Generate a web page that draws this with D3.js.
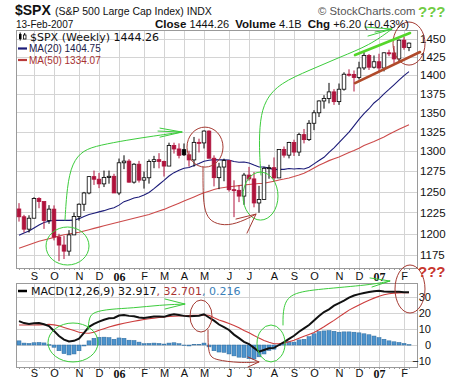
<!DOCTYPE html>
<html><head><meta charset="utf-8">
<script src="https://cdn.jsdelivr.net/npm/d3@7"></script>
<style>body{margin:0;background:#fff}svg{display:block}</style>
</head><body>
<svg id="c" width="460" height="383"></svg>
<script>
// ---------- DATA ----------
const weeks = ["2005-08-15","2005-08-22","2005-08-29","2005-09-05","2005-09-12","2005-09-19","2005-09-26","2005-10-03","2005-10-10","2005-10-17","2005-10-24","2005-10-31","2005-11-07","2005-11-14","2005-11-21","2005-11-28","2005-12-05","2005-12-12","2005-12-19","2005-12-26",
"2006-01-02","2006-01-09","2006-01-16","2006-01-23","2006-01-30","2006-02-06","2006-02-13","2006-02-20","2006-02-27","2006-03-06","2006-03-13","2006-03-20","2006-03-27","2006-04-03","2006-04-10","2006-04-17","2006-04-24","2006-05-01","2006-05-08","2006-05-15","2006-05-22","2006-05-29","2006-06-05","2006-06-12","2006-06-19","2006-06-26","2006-07-03","2006-07-10","2006-07-17","2006-07-24","2006-07-31","2006-08-07","2006-08-14","2006-08-21","2006-08-28","2006-09-04","2006-09-11","2006-09-18","2006-09-25","2006-10-02","2006-10-09","2006-10-16","2006-10-23","2006-10-30","2006-11-06","2006-11-13","2006-11-20","2006-11-27","2006-12-04","2006-12-11","2006-12-18","2006-12-25",
"2007-01-01","2007-01-08","2007-01-15","2007-01-22","2007-01-29","2007-02-05","2007-02-12"];

const open = [1229.0,1219.7,1205.1,1218.0,1241.5,1237.9,1215.3,1228.8,1195.9,1186.6,
1179.6,1198.4,1220.1,1234.7,1248.3,1268.3,1265.1,1259.4,1267.3,1268.7,
1248.3,1285.5,1287.6,1261.5,1283.7,1264.0,1266.9,1287.2,1289.4,1287.2,
1281.4,1307.3,1302.9,1302.0,1295.5,1289.1,1311.3,1310.6,1325.8,1291.2,
1267.0,1280.2,1288.2,1252.3,1251.5,1244.5,1270.2,1265.5,1236.2,1240.3,
1278.6,1279.4,1266.7,1302.3,1295.1,1311.0,1299.0,1321.2,1314.8,1335.9,
1349.6,1365.2,1368.6,1377.3,1364.3,1380.9,1401.2,1400.9,1396.7,1409.8,
1427.1,1410.8,1418.3,1409.7,1430.7,1430.5,1422.2,1448.4,1438.1];

const high = [1236.0,1222.0,1221.5,1243.1,1243.1,1237.9,1233.6,1233.3,1199.7,1197.3,
1204.0,1224.7,1235.7,1249.6,1268.8,1275.8,1272.9,1275.8,1275.8,1271.8,
1290.8,1294.9,1290.0,1285.0,1287.9,1274.6,1289.7,1294.2,1297.6,1288.2,
1310.9,1310.9,1310.0,1309.9,1300.7,1318.2,1316.0,1326.7,1326.7,1294.8,
1285.5,1290.7,1288.2,1263.8,1257.9,1272.9,1280.4,1274.0,1257.0,1280.4,
1283.0,1292.2,1302.3,1306.0,1312.0,1314.7,1323.6,1328.5,1340.0,1353.0,
1366.0,1372.9,1389.4,1381.0,1388.6,1403.8,1407.9,1406.3,1418.3,1431.6,
1429.0,1427.0,1429.4,1431.2,1435.0,1440.1,1449.2,1453.0,1445.0];

const low = [1214.0,1201.3,1201.1,1218.0,1229.9,1205.4,1211.4,1192.0,1168.2,1170.6,
1174.4,1198.4,1215.1,1226.6,1246.7,1258.1,1254.2,1255.5,1259.6,1248.3,
1245.7,1277.6,1260.9,1259.7,1261.0,1253.6,1259.7,1278.7,1278.6,1268.4,
1281.4,1297.1,1291.0,1294.0,1280.7,1280.7,1298.5,1303.5,1291.2,1256.3,
1252.9,1262.6,1250.0,1219.3,1237.2,1234.0,1263.3,1231.0,1224.5,1240.1,
1265.7,1261.8,1266.7,1292.0,1291.0,1294.0,1294.0,1310.0,1313.0,1327.0,
1344.0,1355.0,1362.0,1360.0,1360.0,1379.0,1398.0,1377.8,1394.0,1407.0,
1407.0,1409.0,1403.9,1405.0,1426.0,1416.0,1418.0,1435.0,1433.0];

const close = [1219.7,1205.1,1218.0,1241.5,1237.9,1215.3,1228.8,1195.9,1186.6,1179.6,
1198.4,1220.1,1234.7,1248.3,1268.3,1265.1,1259.4,1267.3,1268.7,1248.3,
1285.5,1287.6,1261.5,1283.7,1264.0,1266.9,1287.2,1289.4,1287.2,1281.4,
1307.3,1302.9,1294.9,1295.5,1289.1,1311.3,1310.6,1325.8,1291.2,1267.0,
1280.2,1288.2,1252.3,1251.5,1244.5,1270.2,1265.5,1236.2,1240.3,1278.6,
1279.4,1266.7,1302.3,1295.1,1311.0,1299.0,1321.2,1314.8,1335.9,1349.6,
1365.2,1368.6,1377.3,1364.3,1380.9,1401.2,1400.9,1396.7,1409.8,1427.1,
1410.8,1418.3,1409.7,1430.7,1430.5,1422.2,1448.4,1438.1,1444.26];

const ma20 = [1198,1200.5,1203,1206.5,1210,1213,1214.5,1215.5,1215.5,1215.5,
1215.5,1215.7,1217.5,1220,1222.5,1224,1225.5,1227,1229,1230.4,
1233.6,1237.8,1239.9,1242.1,1243.4,1245.9,1248.9,1253.5,1258.6,1263.7,
1269.1,1273.2,1276.3,1278.6,1279.7,1282.0,1284.5,1287.4,1288.6,1289.5,
1289.2,1289.3,1288.8,1287.2,1286.2,1286.4,1285.3,1282.6,1280.3,1280.2,
1278.8,1277.0,1277.3,1277.3,1278.4,1277.8,1278.3,1277.8,1280.0,1284.1,
1288.4,1292.4,1298.7,1304.3,1311.1,1317.7,1324.4,1332.5,1340.9,1348.4,
1354.9,1362.5,1367.9,1374.7,1380.6,1386.8,1393.2,1399.3,1404.75];

const ma50 = [1183,1185,1187,1189,1191,1192.5,1194,1195.5,1197,1198.5,
1199.5,1200.5,1201.5,1203,1204.5,1206,1207.5,1209,1210.5,1212,
1213.5,1215,1216.5,1218,1219.5,1221,1222.5,1224.5,1226.5,1228.5,
1231,1233.5,1236,1238.5,1241,1243.5,1246,1248.5,1250.5,1252.5,
1254,1255,1255.8,1256.5,1257.2,1258,1258.7,1259.3,1259.8,1260.1,
1261.3,1262.5,1264.2,1265.3,1266.7,1268.4,1270.3,1272.6,1275.6,1279.0,
1282.4,1285.3,1288.2,1290.5,1292.8,1295.5,1298.3,1300.9,1303.7,1307.3,
1309.8,1312.4,1315.4,1318.3,1321.6,1324.8,1328.0,1331.0,1334.07];

const macd = [14.9,13.7,13.2,13.6,13.8,13.0,11.8,8.8,5.6,3.4,
2.2,2.6,4.0,7.6,11.4,13.2,14.6,15.8,16.7,16.9,
18.4,18.8,18.2,18.0,17.2,16.9,17.4,17.8,17.8,17.6,
18.6,19.2,18.8,18.2,17.9,18.2,18.3,19.2,17.2,15.2,
12.8,11.2,9.4,6.5,4.3,2.0,0.6,-1.8,-4.2,-3.1,
-2.1,-1.8,0.0,1.8,3.8,5.8,8.3,10.4,12.5,15.3,
18.1,20.6,22.3,24.6,26.2,27.7,29.6,30.9,31.8,32.5,
33.1,33.6,33.9,33.5,33.3,33.3,33.3,33.0,32.917];

const signal = [12.5,12.5,12.5,12.5,12.6,12.7,12.9,12.6,12.0,11.0,
10.0,9.0,8.0,7.5,7.3,8.0,9.2,10.2,11.2,12.1,
12.9,13.6,14.2,14.8,15.4,15.9,16.4,16.8,17.2,17.6,
17.8,18.0,18.2,18.3,18.4,18.5,18.6,18.7,18.6,17.0,
15.6,14.6,13.4,12.2,10.8,9.0,7.6,5.9,4.3,2.8,
1.7,0.8,0.8,1.2,2.0,3.0,4.2,5.4,6.6,7.8,
9.5,11.4,13.4,15.4,17.6,19.7,21.8,23.4,25.0,26.6,
28.0,29.3,30.5,31.4,32.0,32.4,32.6,32.7,32.701];

const hist = [2.6,1.2,1.0,1.4,1.6,1.3,0.2,-1.4,-3.6,-5.4,
-6.2,-5.6,-3.6,-0.6,2.6,4.2,4.8,4.9,4.6,3.6,
4.4,4.2,3.0,2.8,1.8,0.8,1.0,1.2,1.0,0.6,
1.2,1.4,0.8,-0.2,-0.6,0.4,0.4,1.2,-1.2,-3.6,
-4.4,-4.6,-5.6,-6.8,-7.6,-7.8,-8.6,-8.8,-7.4,-5.6,
-3.4,-2.6,-0.4,0.8,2.0,1.8,3.2,3.6,5.2,7.0,
8.4,8.8,9.0,8.6,8.0,8.2,8.2,8.0,7.6,7.0,
6.4,5.6,4.6,3.6,2.6,2.0,1.6,1.0,0.216];

const priceTicks = [1175,1200,1225,1250,1275,1300,1325,1350,1375,1400,1425,1450];
const macdTicks = [-10,0,10,20,30];
const monthLabels = ["S","O","N","D","06","F","M","A","M","J","J","A","S","O","N","D","07","F"];

// hand-drawn annotations, in (week index, value) coordinates
const greenEllMain = [[5.4,1207.6,14.0,1163.8],[44.8,1273.9,51.8,1215.8]];
const redEllMain = [[33.6,1330.9,40.8,1280.1],[74.8,1474.2,81.2,1413.7]];
const greenCurveMain = [
  [[9.2,1215.8],[9.6,1255.6],[10.6,1285.1],[12.8,1301.5],[16.2,1307.8],[21.6,1314.2],[26.8,1319.3],[32.6,1324.5]],
  [[48.4,1270.2],[48.0,1305.3],[48.2,1340.0],[49.2,1366.4],[52.2,1389.2],[58.2,1406.9],[64.2,1424.8],[70.2,1441.5],[74.6,1464.2]]];
const greenArrowMain = [
  [[28.2,1329.6],[32.6,1324.5],[28.2,1318.0]],[[27.8,1325.8],[32.6,1324.5]],
  [[69.2,1467.0],[74.6,1464.2],[69.8,1454.2]],[[71.2,1459.9],[74.6,1464.2]]];
const redCurveMain = [[[36.8,1280.1],[36.8,1239.7],[37.4,1221.7],[38.8,1212.3],[41.8,1208.7],[45.2,1215.8],[47.4,1222.9]]];
const redArrowMain = [[[43.4,1217.0],[47.4,1222.9],[45.6,1200.5]]];
const greenTrend = [[67.2,1427.6],[78.2,1458.5]];
const redTrend = [[67.2,1389.2],[80.2,1431.8]];

const greenEllMacd = [[5.8,13.75,15.8,-10.6],[47.6,12.5,53.2,-10.6]];
const redEllMacd = [[34.2,28.1,38.6,8.1],[75.2,50,81.2,20]];
const greenCurveMacd = [
  [[13.8,9.4],[14,16.9],[14.8,20.6],[18.2,22.5],[22.8,23.1],[28.2,25],[33.2,25.6]],
  [[52.8,12.5],[52.8,23.75],[54.2,32.5],[60.2,35],[70.2,37.5],[74.2,40]]];
const greenArrowMacd = [[[29.2,28.75],[33.2,25.6],[29.2,22.5]],[[70.2,41.9],[74.2,40],[70.6,36.25]]];
const redCurveMacd = [[[37.8,9.4],[37.8,-6.25],[39.2,-9.4],[44.2,-11.25],[48,-10.6]]];
const redArrowMacd = [[[45.8,-7.5],[48,-10.6],[45.8,-13.75]]];

// ---------- DRAW ----------
const svg = d3.select('#c');
const SANS = "'Liberation Sans', Arial, sans-serif";
const DEJA = "'DejaVu Sans', Verdana, sans-serif";
const RED = '#b0133c';
const M = {l:16, r:417, t:30, b:268};
const P = {t:283, b:367};
const n = weeks.length;
const idx = d3.range(n);

const x = d3.scaleLinear().domain([-0.6, 79.6]).range([M.l, M.r]);
const y = d3.scaleLog().domain([1160.4, 1462.8]).range([M.b, M.t]);
const ym = d3.scaleLinear().domain([-13.75, 38.75]).range([P.b, P.t]);

const dates = weeks.map(d3.timeParse('%Y-%m-%d'));
const tickIdx = [];
dates.forEach((d,i) => { if (i > 0 && d.getMonth() !== dates[i-1].getMonth()) tickIdx.push(i); });

// grids
function grid(top, bottom, ys, ticks) {
  const g = svg.append('g').attr('stroke', '#d4d4d4').attr('stroke-width', 1);
  ticks.forEach(t => g.append('line').attr('x1', M.l).attr('x2', M.r)
    .attr('y1', Math.round(ys(t)) + 0.5).attr('y2', Math.round(ys(t)) + 0.5));
  tickIdx.forEach(t => g.append('line').attr('y1', top).attr('y2', bottom)
    .attr('x1', Math.round(x(t)) + 0.5).attr('x2', Math.round(x(t)) + 0.5));
  const mt = svg.append('g').attr('stroke', '#999');
  idx.forEach(i => mt.append('line').attr('x1', Math.round(x(i)) + 0.5).attr('x2', Math.round(x(i)) + 0.5)
    .attr('y1', bottom).attr('y2', bottom + 2));
  svg.append('rect').attr('x', M.l + 0.5).attr('y', top + 0.5).attr('width', M.r - M.l)
    .attr('height', bottom - top).attr('fill', 'none').attr('stroke', '#9a9a9a');
}
grid(M.t, M.b, y, priceTicks);
grid(P.t, P.b, ym, macdTicks);

// x axes (month labels)
function xAxis(yPos, pad) {
  const g = svg.append('g').attr('transform', `translate(0,${yPos})`)
    .call(d3.axisBottom(x).tickValues(tickIdx).tickFormat((d,k) => monthLabels[k]).tickSize(0).tickPadding(pad));
  g.select('.domain').remove();
  g.selectAll('text').attr('font-family', SANS).attr('font-size', 11).attr('fill', '#111');
  g.selectAll('text').filter((d,k) => /\d/.test(monthLabels[k]))
    .attr('font-family', "'Liberation Serif', 'Times New Roman', serif").attr('font-weight', 'bold').attr('font-size', 12);
}
xAxis(M.b, 4);
xAxis(P.b, 2);

// y axes
const ya = svg.append('g').attr('transform', `translate(${M.r},0)`)
  .call(d3.axisRight(y).tickValues(priceTicks).tickFormat(d3.format('d')).tickSize(0).tickPadding(3));
ya.select('.domain').remove();
ya.selectAll('text').attr('font-family', SANS).attr('font-size', 11.5).attr('fill', '#111');

const ym_ax = svg.append('g').attr('transform', `translate(${M.r},0)`)
  .call(d3.axisRight(ym).tickValues(macdTicks).tickFormat(d3.format('d')).tickSize(0));
ym_ax.select('.domain').remove();
ym_ax.selectAll('text').attr('font-family', SANS).attr('font-size', 11).attr('fill', '#111')
  .attr('text-anchor', 'end').attr('x', 14);

// moving averages
const lineP = d3.line().x((d,i) => x(i)).y(d => y(d));
svg.append('path').attr('d', lineP(ma50)).attr('fill', 'none').attr('stroke', '#cc4b4b').attr('stroke-width', 1.1);
svg.append('path').attr('d', lineP(ma20)).attr('fill', 'none').attr('stroke', '#1b1b78').attr('stroke-width', 1.1);

// candles
const cg = svg.append('g');
idx.forEach(i => {
  const o = open[i], c = close[i];
  const isRed = i > 0 ? c < close[i-1] : c < o;
  const col = isRed ? RED : '#000';
  const filled = c < o;
  cg.append('line').attr('x1', x(i)).attr('x2', x(i)).attr('y1', y(high[i])).attr('y2', y(low[i]))
    .attr('stroke', col).attr('stroke-width', 1);
  const yt = y(Math.max(o, c)), yb = y(Math.min(o, c));
  cg.append('rect').attr('x', x(i) - 1.8).attr('width', 3.6)
    .attr('y', yt).attr('height', Math.max(1, yb - yt))
    .attr('fill', filled ? col : '#fff').attr('stroke', col).attr('stroke-width', 0.8);
});

// MACD
const hg = svg.append('g');
idx.forEach(i => {
  const h = hist[i];
  const y0 = ym(Math.max(0, h)), y1 = ym(Math.min(0, h));
  hg.append('rect').attr('x', x(i) - 2).attr('width', 4).attr('y', y0).attr('height', Math.max(0.5, y1 - y0))
    .attr('fill', '#4d93cc').attr('stroke', '#2e6a9c').attr('stroke-width', 0.5);
});
const lineM = d3.line().x((d,i) => x(i)).y(d => ym(d));
svg.append('path').attr('d', lineM(signal)).attr('fill', 'none').attr('stroke', '#cc3c3c').attr('stroke-width', 1.1);
svg.append('path').attr('d', lineM(macd)).attr('fill', 'none').attr('stroke', '#111').attr('stroke-width', 2);

// annotations
const GREEN = '#3ccc3c', ARED = '#a53a32';
function ell(ys, b, color) {
  const x1 = x(b[0]), x2 = x(b[2]), y1 = ys(b[1]), y2 = ys(b[3]);
  svg.append('ellipse').attr('cx', (x1 + x2) / 2).attr('cy', (y1 + y2) / 2)
    .attr('rx', Math.abs(x2 - x1) / 2).attr('ry', Math.abs(y2 - y1) / 2)
    .attr('fill', 'none').attr('stroke', color).attr('stroke-width', 1);
}
function pth(ys, pts, color, w, curve) {
  svg.append('path').attr('d', d3.line().x(p => x(p[0])).y(p => ys(p[1])).curve(curve || d3.curveLinear)(pts))
    .attr('fill', 'none').attr('stroke', color).attr('stroke-width', w || 1).attr('stroke-linecap', 'round');
}
greenEllMain.forEach(b => ell(y, b, GREEN));
redEllMain.forEach(b => ell(y, b, ARED));
greenCurveMain.forEach(p => pth(y, p, GREEN, 1, d3.curveBasis));
greenArrowMain.forEach(p => pth(y, p, GREEN, 1));
redCurveMain.forEach(p => pth(y, p, ARED, 1, d3.curveBasis));
redArrowMain.forEach(p => pth(y, p, ARED, 1));
pth(y, greenTrend, '#55d62a', 2.6);
pth(y, redTrend, '#b04a2a', 2.6);
greenEllMacd.forEach(b => ell(ym, b, GREEN));
redEllMacd.forEach(b => ell(ym, b, ARED));
greenCurveMacd.forEach(p => pth(ym, p, GREEN, 1, d3.curveBasis));
greenArrowMacd.forEach(p => pth(ym, p, GREEN, 1));
redCurveMacd.forEach(p => pth(ym, p, ARED, 1, d3.curveBasis));
redArrowMacd.forEach(p => pth(ym, p, ARED, 1));

// header texts
function txt(xp, yp, s, size, opts) {
  opts = opts || {};
  return svg.append('text').attr('x', xp).attr('y', yp).text(s)
    .attr('font-family', opts.family || SANS).attr('font-size', size)
    .attr('font-weight', opts.weight || 'normal').attr('fill', opts.fill || '#111');
}
txt(15, 15, '$SPX', 14, {weight: 'bold'});
txt(55, 15, '(S&P 500 Large Cap Index) INDX', 10.5);
txt(318, 15, '\u00A9 StockCharts.com', 11.3, {fill: '#555'});
txt(418, 17, '???', 15, {weight: 'bold', fill: '#72cc44'});
txt(418, 277, '???', 15, {weight: 'bold', fill: '#c8362e'});
txt(16, 27.5, '13-Feb-2007', 10);
const cl = svg.append('text').attr('x', 155).attr('y', 27.5).attr('font-family', SANS).attr('font-size', 11).attr('fill', '#111')
  .attr('style', 'white-space:pre');
[['Close', true], [' 1444.26  ', false], ['Volume', true], [' 4.1B  ', false], ['Chg', true], [' +6.20 (+0.43%)', false]]
  .forEach(([s, b]) => cl.append('tspan').text(s).attr('font-weight', b ? 'bold' : 'normal').attr('font-size', b ? 11.5 : 11));

// main legend
const lg = svg.append('g');
lg.append('rect').attr('x', 19).attr('y', 34).attr('width', 2.5).attr('height', 5).attr('fill', '#000');
lg.append('line').attr('x1', 20.2).attr('x2', 20.2).attr('y1', 32.5).attr('y2', 40.5).attr('stroke', '#000');
lg.append('rect').attr('x', 23.5).attr('y', 35).attr('width', 2.5).attr('height', 4).attr('fill', '#fff').attr('stroke', '#000').attr('stroke-width', 0.8);
lg.append('line').attr('x1', 24.7).attr('x2', 24.7).attr('y1', 33).attr('y2', 35).attr('stroke', '#000');
txt(30, 40.5, '$SPX (Weekly) 1444.26', 11, {family: DEJA});
lg.append('line').attr('x1', 18).attr('x2', 27).attr('y1', 48.5).attr('y2', 48.5).attr('stroke', '#1b1b78').attr('stroke-width', 2.2);
txt(29, 52, 'MA(20) 1404.75', 10, {fill: '#1a1a4a'});
lg.append('line').attr('x1', 18).attr('x2', 27).attr('y1', 60).attr('y2', 60).attr('stroke', '#b83a3a').attr('stroke-width', 2.2);
txt(29, 63.5, 'MA(50) 1334.07', 10, {fill: '#a83232'});

// MACD legend
svg.append('line').attr('x1', 18).attr('x2', 27).attr('y1', 291).attr('y2', 291).attr('stroke', '#000').attr('stroke-width', 2.5);
const ml = svg.append('text').attr('x', 31).attr('y', 295).attr('font-family', DEJA).attr('font-size', 11);
ml.append('tspan').text('MACD(12,26,9) 32.917').attr('fill', '#111');
ml.append('tspan').text(', 32.701').attr('fill', '#a83232');
ml.append('tspan').text(', 0.216').attr('fill', '#3a80b8');
</script>
</body></html>
